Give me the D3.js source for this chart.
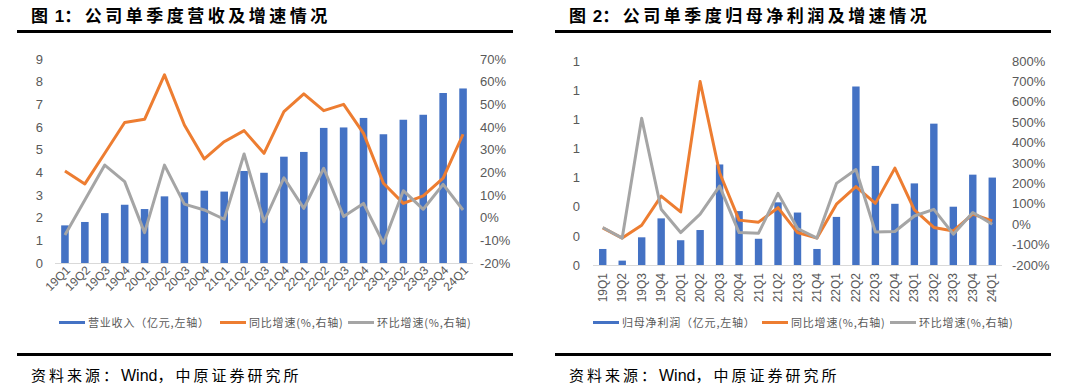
<!DOCTYPE html>
<html>
<head>
<meta charset="utf-8">
<script src="https://cdn.jsdelivr.net/npm/d3@7"></script>
<style>
  body { margin: 0; background: #fff; }
  svg { display: block; }
</style>
</head>
<body>
<div id="chart"></div>
<script>
// Data

let quarters = [`19Q1`, `19Q2`, `19Q3`, `19Q4`, `20Q1`, `20Q2`, `20Q3`, `20Q4`, `21Q1`, `21Q2`, `21Q3`,
  `21Q4`, `22Q1`, `22Q2`, `22Q3`, `22Q4`, `23Q1`, `23Q2`, `23Q3`, `23Q4`, `24Q1`]

let revenue = [1.66, 1.81, 2.2, 2.57, 2.38, 2.94, 3.12, 3.19, 3.15, 4.06, 3.98,
  4.69, 4.9, 5.96, 5.98, 6.4, 5.68, 6.32, 6.54, 7.5, 7.7]
let revenueYoy = [20.6, 14.9, 28.4, 42, 43.4, 63, 40.9, 25.9, 33.5, 38.4, 28.4,
  46.8, 54.6, 47.2, 50, 37.2, 15.2, 6.3, 9.6, 17.4, 36.8]
let revenueQoq = [-7.6, 7.8, 23.2, 15.9, -6.6, 23.2, 6, 3.4, -0.7, 28.1, -1.8,
  17.6, 4.1, 21.8, 0.5, 6.3, -11.3, 11.9, 3.7, 14.7, 3.4]

let profit = [0.11, 0.03, 0.19, 0.32, 0.17, 0.24, 0.69, 0.37, 0.18, 0.43, 0.36,
  0.11, 0.33, 1.225, 0.68, 0.42, 0.56, 0.97, 0.4, 0.62, 0.6]
let profitYoy = [-18, -68, -5, 138, 60, 699, 252, 20, 10, 81, -41,
  -68, 98, 184, 102, 275, 70, -16, -33, 49, 16]
let profitQoq = [-16, -68, 519, 73, -41, 49, 187, -41, -44, 151, -21,
  -68, 200, 268, -38, -36, 40, 73, -49, 57, 0]

let leftTicks1 = [0, 1, 2, 3, 4, 5, 6, 7, 8, 9]
let rightTicks1 = [-20, -10, 0, 10, 20, 30, 40, 50, 60, 70]
let leftTicks2 = [0, 0.2, 0.4, 0.6, 0.8, 1.0, 1.2, 1.4]
let rightTicks2 = [-200, -100, 0, 100, 200, 300, 400, 500, 600, 700, 800]

// Colors

let blue = `#4472C4`
let orange = `#ED7D31`
let gray = `#A5A5A5`
let labelGray = `#595959`

let latin = `"Liberation Sans", Arial, sans-serif`
let cjk = `"Noto Sans CJK SC", "Liberation Sans", sans-serif`

let width = 1080
let height = 386

let svg = d3.select(`#chart`)
  .append(`svg`)
  .attr(`width`, width)
  .attr(`height`, height)

let drawChart = ({
  offsetX, titleNum, titleText, bars, yoy, qoq, leftTicks, rightTicks, leftFormat, rightFormat,
  plotLeft, plotRight, plotTop, plotBottom, rightLabelX, leftLabelX,
  rotate, legendItems,
}) => {
  let g = svg.append(`g`)

  // Title + rules

  let title = g.append(`text`)
    .attr(`x`, offsetX + 2)
    .attr(`y`, 22)
    .attr(`font-family`, cjk)
    .attr(`font-size`, 17)
    .attr(`font-weight`, `bold`)
    .attr(`fill`, `#000`)
  title.append(`tspan`).text(`图 `)
  title.append(`tspan`).attr(`font-family`, latin).attr(`dx`, 3).text(titleNum)
  title.append(`tspan`).attr(`letter-spacing`, 3.5).text(`：${titleText}`)

  g.append(`rect`)
    .attr(`x`, offsetX - 12)
    .attr(`y`, 30)
    .attr(`width`, 496)
    .attr(`height`, 3)
    .attr(`fill`, `#000`)

  g.append(`rect`)
    .attr(`x`, offsetX - 12)
    .attr(`y`, 353)
    .attr(`width`, 496)
    .attr(`height`, 3)
    .attr(`fill`, `#000`)

  let source = g.append(`text`)
    .attr(`x`, offsetX + 2)
    .attr(`y`, 381)
    .attr(`font-family`, cjk)
    .attr(`font-size`, 15)
    .attr(`fill`, `#000`)
  source.append(`tspan`).attr(`letter-spacing`, 3).text(`资料来源：`)
  source.append(`tspan`).attr(`font-family`, latin).attr(`font-size`, 16).text(`Wind`)
  source.append(`tspan`).attr(`letter-spacing`, 3).text(`，中原证券研究所`)

  // Scales

  let x = d3.scaleBand()
    .domain(quarters)
    .range([plotLeft, plotRight])
    .paddingInner(0.62)
    .paddingOuter(0.31)

  let yLeft = d3.scaleLinear()
    .domain(d3.extent(leftTicks))
    .range([plotBottom, plotTop])

  let yRight = d3.scaleLinear()
    .domain(d3.extent(rightTicks))
    .range([plotBottom, plotTop])

  // Axes

  let leftAxis = g.append(`g`)
    .attr(`transform`, `translate(${leftLabelX},0)`)
    .call(d3.axisLeft(yLeft).tickValues(leftTicks).tickFormat(leftFormat).tickSize(0).tickPadding(0))
  leftAxis.select(`.domain`).remove()
  leftAxis.selectAll(`text`)
    .attr(`font-family`, latin)
    .attr(`font-size`, 13)
    .attr(`fill`, labelGray)

  let rightAxis = g.append(`g`)
    .attr(`transform`, `translate(${rightLabelX},0)`)
    .call(d3.axisRight(yRight).tickValues(rightTicks).tickFormat(rightFormat).tickSize(0).tickPadding(0))
  rightAxis.select(`.domain`).remove()
  rightAxis.selectAll(`text`)
    .attr(`font-family`, latin)
    .attr(`font-size`, 13)
    .attr(`fill`, labelGray)

  // Bars

  g.append(`g`)
    .selectAll(`rect`)
    .data(bars)
    .join(`rect`)
    .attr(`x`, (d, i) => x(quarters[i]))
    .attr(`y`, d => yLeft(d))
    .attr(`width`, x.bandwidth())
    .attr(`height`, d => yLeft(0) - yLeft(d))
    .attr(`fill`, blue)

  // Category axis

  g.append(`line`)
    .attr(`x1`, plotLeft)
    .attr(`x2`, plotRight)
    .attr(`y1`, plotBottom + 0.5)
    .attr(`y2`, plotBottom + 0.5)
    .attr(`stroke`, `#D9D9D9`)

  let xLabels = g.append(`g`)
    .selectAll(`text`)
    .data(quarters)
    .join(`text`)
    .attr(`font-family`, latin)
    .attr(`font-size`, 12)
    .attr(`fill`, labelGray)
    .attr(`text-anchor`, `end`)
    .text(d => d)

  if (rotate === 45) {
    xLabels.attr(`transform`, d => `translate(${x(d) + x.bandwidth() / 2 + 6},${plotBottom + 8}) rotate(-45)`)
  } else {
    xLabels.attr(`transform`, d => `translate(${x(d) + x.bandwidth() / 2 + 4},${plotBottom + 8}) rotate(-90)`)
  }

  // Lines

  let line = d3.line()
    .x((d, i) => x(quarters[i]) + x.bandwidth() / 2)
    .y(d => yRight(d))

  g.append(`path`)
    .datum(yoy)
    .attr(`d`, line)
    .attr(`fill`, `none`)
    .attr(`stroke`, orange)
    .attr(`stroke-width`, 3)
    .attr(`stroke-linejoin`, `round`)

  g.append(`path`)
    .datum(qoq)
    .attr(`d`, line)
    .attr(`fill`, `none`)
    .attr(`stroke`, gray)
    .attr(`stroke-width`, 3)
    .attr(`stroke-linejoin`, `round`)

  // Legend

  legendItems.forEach(item => {
    g.append(`rect`)
      .attr(`x`, item.x)
      .attr(`y`, 321)
      .attr(`width`, 26)
      .attr(`height`, 3)
      .attr(`fill`, item.color)

    g.append(`text`)
      .attr(`x`, item.x + 29)
      .attr(`y`, 327)
      .attr(`font-family`, cjk)
      .attr(`font-size`, 11)
      .attr(`letter-spacing`, 0.8)
      .attr(`fill`, labelGray)
      .text(item.label)
  })
}

drawChart({
  offsetX: 29,
  titleNum: `1`,
  titleText: `公司单季度营收及增速情况`,
  bars: revenue,
  yoy: revenueYoy,
  qoq: revenueQoq,
  leftTicks: leftTicks1,
  rightTicks: rightTicks1,
  leftFormat: d3.format(`d`),
  rightFormat: d => `${d}%`,
  plotLeft: 55,
  plotRight: 473,
  plotTop: 59,
  plotBottom: 263,
  leftLabelX: 43,
  rightLabelX: 480,
  rotate: 45,
  legendItems: [
    { x: 59, color: blue, label: `营业收入（亿元,左轴）` },
    { x: 220, color: orange, label: `同比增速(%,右轴)` },
    { x: 348, color: gray, label: `环比增速(%,右轴)` },
  ],
})

drawChart({
  offsetX: 567,
  titleNum: `2`,
  titleText: `公司单季度归母净利润及增速情况`,
  bars: profit,
  yoy: profitYoy,
  qoq: profitQoq,
  leftTicks: leftTicks2,
  rightTicks: rightTicks2,
  leftFormat: d3.format(`.0f`),
  rightFormat: d => `${d}%`,
  plotLeft: 593,
  plotRight: 1002,
  plotTop: 61,
  plotBottom: 265,
  leftLabelX: 580,
  rightLabelX: 1012,
  rotate: 90,
  legendItems: [
    { x: 593, color: blue, label: `归母净利润（亿元,左轴）` },
    { x: 762, color: orange, label: `同比增速(%,右轴)` },
    { x: 890, color: gray, label: `环比增速(%,右轴)` },
  ],
})
</script>
</body>
</html>
